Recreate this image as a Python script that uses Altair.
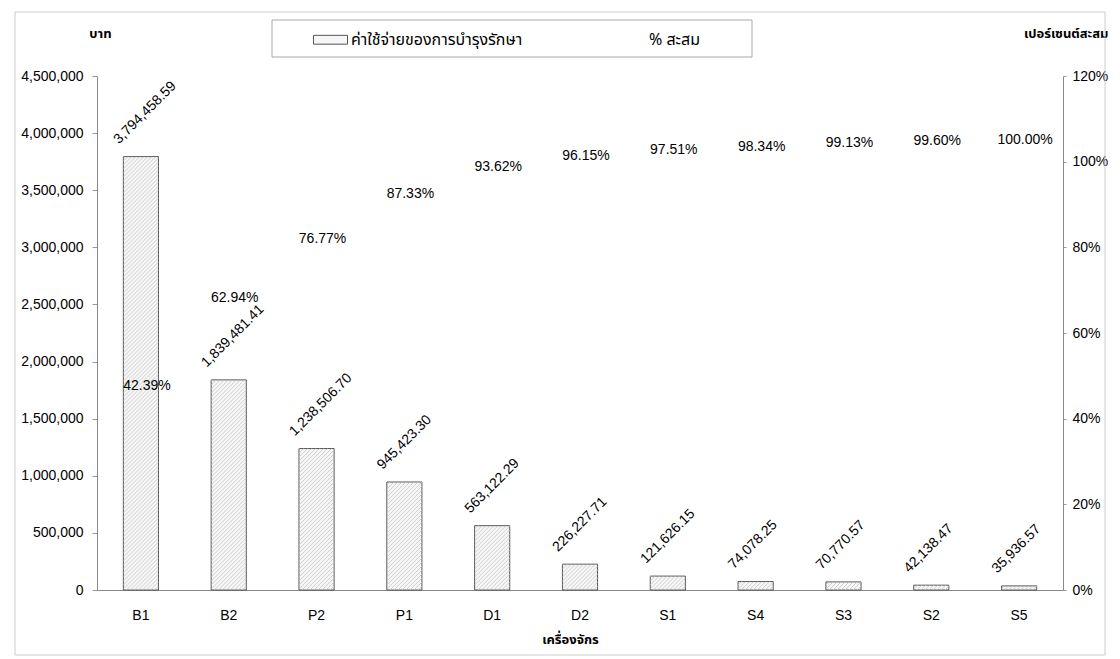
import altair as alt
import pandas as pd

# Maintenance cost per machine (baht), sorted for a Pareto view
machines = ["B1", "B2", "P2", "P1", "D1", "D2", "S1", "S4", "S3", "S2", "S5"]
costs = [3794458.59, 1839481.41, 1238506.70, 945423.30, 563122.29, 226227.71,
         121626.15, 74078.25, 70770.57, 42138.47, 35936.57]
cum_pct = [42.39, 62.94, 76.77, 87.33, 93.62, 96.15, 97.51, 98.34, 99.13, 99.60, 100.00]

baht_ticks = [0, 500000, 1000000, 1500000, 2000000, 2500000, 3000000, 3500000, 4000000, 4500000]
pct_ticks = [0, 20, 40, 60, 80, 100, 120]

COST = "ค่าใช้จ่ายของการบำรุงรักษา"
CUM = "% สะสม"

FONT = "Liberation Sans"
THAI = "Noto Sans Thai, Loma, Garuda, Tlwg Typo, sans-serif"
NUM_SIZE = 14

# plot geometry (pixels)
W, H = 966, 514
Y_MAX = 4500000
STEP = W / len(machines)
BAR_W = STEP * 0.4
HATCH_GAP = 4

df = pd.DataFrame({"machine": machines, "cost": costs, "cum": cum_pct})
df["series"] = COST
df["idx"] = range(len(df))

band = alt.Scale(paddingInner=0.6, paddingOuter=0.3)

x_axis = alt.X(
    "machine:N",
    sort=machines,
    scale=band,
    axis=alt.Axis(
        title="เครื่องจักร", labelAngle=0, ticks=False, labelPadding=18,
        labelFontSize=NUM_SIZE, domainColor="#888",
        titleX=473, titleY=49, titleAlign="center", titleBaseline="middle",
        titleFont=THAI, titleFontSize=13, titleFontWeight="bold",
    ),
)
x_plain = alt.X("machine:N", sort=machines, scale=band, axis=None)

# outer chart frame and legend box
frame = alt.Chart(alt.Data(values=[{"k": 1}])).mark_rect(
    fill="transparent", stroke="#cccccc", strokeWidth=1
).encode(
    x=alt.value(-82), x2=alt.value(1008), y=alt.value(-64), y2=alt.value(579)
)
legend_box = alt.Chart(alt.Data(values=[{"k": 1}])).mark_rect(
    fill="transparent", stroke="#aaaaaa", strokeWidth=1
).encode(
    x=alt.value(175), x2=alt.value(655), y=alt.value(-56), y2=alt.value(-19)
)

bars = alt.Chart(df).mark_bar(strokeWidth=1).encode(
    x=x_axis,
    y=alt.Y(
        "cost:Q",
        scale=alt.Scale(domain=[0, Y_MAX], nice=False),
        axis=alt.Axis(
            values=baht_ticks, format=",d", tickSize=5, labelPadding=9,
            domainColor="#888", tickColor="#999", labelFontSize=NUM_SIZE,
            title="บาท", titleAngle=0, titleX=3, titleY=-43,
            titleAlign="center", titleBaseline="middle",
            titleFont=THAI, titleFontSize=13, titleFontWeight="bold",
        ),
    ),
    fill=alt.Fill(
        "series:N",
        scale=alt.Scale(domain=[COST, CUM], range=["#f6f6f6", "#ffffff"]),
        legend=alt.Legend(
            title=None, orient="none", legendX=216, legendY=-54,
            direction="horizontal", padding=0,
            symbolType="M-1,-0.26L1,-0.26L1,0.26L-1,0.26Z", symbolSize=1156,
            symbolStrokeWidth=1, labelFont=THAI, labelFontSize=16,
            labelLimit=400, labelOffset=3, columnPadding=86,
        ),
    ),
    stroke=alt.Stroke(
        "series:N",
        scale=alt.Scale(domain=[COST, CUM], range=["#555555", "#ffffff"]),
        legend=None,
    ),
)

# diagonal hatching inside each bar, clipped to the bar outline
hatch = alt.Chart(df).transform_calculate(
    h=f"datum.cost / {Y_MAX} * {H}",
).transform_calculate(
    ks=f"sequence(-{BAR_W}, datum.h, {HATCH_GAP})"
).transform_flatten(["ks"], as_=["k"]).transform_calculate(
    y0="max(0, datum.k)",
    x0="max(0, -datum.k)",
    y1=f"min(datum.k + {BAR_W}, datum.h)",
    x1=f"min({BAR_W}, datum.h - datum.k)",
).transform_filter("datum.y1 > datum.y0 + 0.5").transform_calculate(
    xa=f"datum.idx - 0.2 + datum.x0 / {STEP}",
    xb=f"datum.idx - 0.2 + datum.x1 / {STEP}",
    ya=f"datum.y0 / {H} * {Y_MAX}",
    yb=f"datum.y1 / {H} * {Y_MAX}",
).mark_rule(color="#c6c6c6", strokeWidth=0.8).encode(
    x=alt.X("xa:Q", scale=alt.Scale(domain=[-0.5, len(machines) - 0.5], nice=False, zero=False), axis=None),
    x2="xb:Q",
    y=alt.Y("ya:Q", scale=alt.Scale(domain=[0, Y_MAX], nice=False), axis=None),
    y2="yb:Q",
)

bar_labels = alt.Chart(df).mark_text(
    font=FONT, fontSize=NUM_SIZE, angle=315, align="left", baseline="alphabetic",
    dx=-7, dy=-24, color="black",
).encode(
    x=x_plain,
    y=alt.Y("cost:Q", scale=alt.Scale(domain=[0, Y_MAX], nice=False), axis=None),
    text=alt.Text("cost:Q", format=",.2f"),
)

pct_labels = alt.Chart(df).transform_calculate(
    label="format(datum.cum, '.2f') + '%'"
).mark_text(
    font=FONT, fontSize=NUM_SIZE, align="center", baseline="middle", dx=6, dy=-22,
    color="black",
).encode(
    x=x_plain,
    y=alt.Y(
        "cum:Q",
        scale=alt.Scale(domain=[0, 120], nice=False),
        axis=alt.Axis(
            orient="right", values=pct_ticks, labelExpr="datum.value + '%'",
            tickSize=3, labelPadding=6, domainColor="#888", tickColor="#999",
            labelFontSize=NUM_SIZE,
            title="เปอร์เซนต์สะสม", titleAngle=0, titleX=45, titleY=-43,
            titleAlign="right", titleBaseline="middle",
            titleFont=THAI, titleFontSize=13, titleFontWeight="bold",
        ),
    ),
    text="label:N",
)

chart = alt.layer(frame, legend_box, bars, hatch, bar_labels, pct_labels).resolve_scale(
    x="independent", y="independent"
).properties(
    width=W,
    height=H,
    padding={"left": 97, "top": 76, "right": 57, "bottom": 69},
    autosize=alt.AutoSizeParams(type="none"),
    background="white",
).configure_view(stroke=None).configure_axis(
    labelFont=FONT, labelColor="black", titleColor="black", grid=False
)

chart.save("out.html", embed_options={"renderer": "svg", "actions": False})
